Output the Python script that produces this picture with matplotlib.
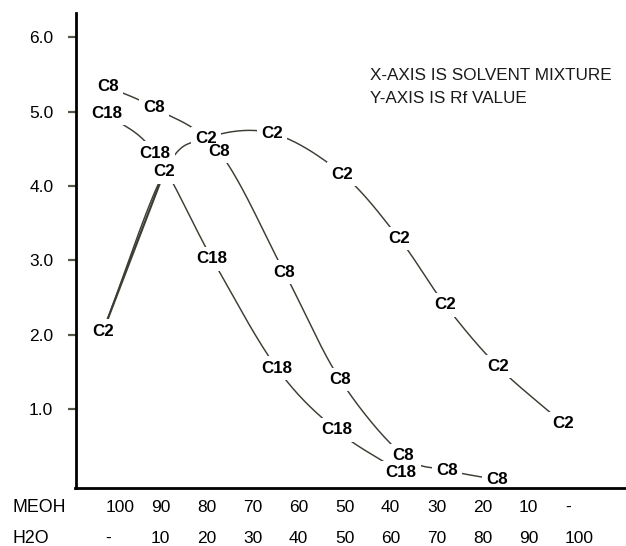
import numpy as np
import matplotlib
matplotlib.use("Agg")
import matplotlib.pyplot as plt
import matplotlib.transforms as mtransforms

# ---- data ----
meoh_labels = ["100", "90", "80", "70", "60", "50", "40", "30", "20", "10", "-"]
h2o_labels = ["-", "10", "20", "30", "40", "50", "60", "70", "80", "90", "100"]
meoh_pos = [100, 90, 80, 70, 60, 50, 40, 30, 20, 10, 0]

c2_x = [102.4, 89.1, 80.0, 65.7, 50.4, 38.0, 28.0, 16.5, 2.4]
c2_y = [2.05, 4.19, 4.64, 4.71, 4.16, 3.29, 2.40, 1.57, 0.81]
c8_x = [101.3, 91.3, 77.2, 63.0, 50.9, 37.2, 27.6, 16.7]
c8_y = [5.33, 5.05, 4.46, 2.84, 1.40, 0.38, 0.18, 0.05]
c18_x = [101.5, 91.1, 78.7, 64.6, 51.7, 37.6]
c18_y = [4.97, 4.44, 3.02, 1.55, 0.72, 0.15]

y_ticks = [1.0, 2.0, 3.0, 4.0, 5.0, 6.0]

LINE = "#3d3d33"
plt.rcParams["font.family"] = ["Liberation Sans", "DejaVu Sans"]

fig = plt.figure(figsize=(6.26, 5.46), dpi=100)
ax = fig.add_axes([75.5 / 626, 1 - 488 / 546, 1 - 75.5 / 626, (488 - 13) / 546])
ax.set_xlim(108.4, -11.3)
ax.set_ylim(-0.06, 6.324)

SX, SY = 4.6, 74.4  # approx px per unit, for smooth curve shape


def smooth(xs, ys, n=40):
    P = np.column_stack([np.asarray(xs) * SX, np.asarray(ys) * SY])
    P = np.vstack([2 * P[0] - P[1], P, 2 * P[-1] - P[-2]])
    out = []
    for i in range(1, len(P) - 2):
        p0, p1, p2, p3 = P[i - 1], P[i], P[i + 1], P[i + 2]
        t = np.linspace(0, 1, n)[:, None]
        seg = 0.5 * ((2 * p1) + (-p0 + p2) * t + (2 * p0 - 5 * p1 + 4 * p2 - p3) * t ** 2
                     + (-p0 + 3 * p1 - 3 * p2 + p3) * t ** 3)
        out.append(seg)
    out = np.vstack(out)
    return out[:, 0] / SX, out[:, 1] / SY


for xs, ys in [(c2_x, c2_y), (c8_x, c8_y), (c18_x, c18_y)]:
    sx, sy = smooth(xs, ys)
    ax.plot(sx, sy, color=LINE, lw=1.05, zorder=2, solid_capstyle="round")
# doubled stroke on first C2 segment
ax.plot(c2_x[:2], c2_y[:2], color=LINE, lw=1.6, zorder=2)

labels = [("C2", c2_x, c2_y), ("C8", c8_x, c8_y), ("C18", c18_x, c18_y)]
for name, xs, ys in labels:
    for x, y in zip(xs, ys):
        ax.text(x, y, name, ha="center", va="center", fontsize=12.2, fontweight="bold",
                color="none", zorder=3,
                bbox=dict(boxstyle="square,pad=0.25", facecolor="white", edgecolor="none"))
for name, xs, ys in labels:
    for x, y in zip(xs, ys):
        ax.text(x, y, name, ha="center", va="center", fontsize=12.2, fontweight="bold",
                color="black", zorder=4)

for s in ["top", "right"]:
    ax.spines[s].set_visible(False)
for s in ["left", "bottom"]:
    ax.spines[s].set_linewidth(2.0)
    ax.spines[s].set_zorder(6)
ax.set_xticks([])
ax.set_yticks(y_ticks)
ax.set_yticklabels([f"{v:.1f}" for v in y_ticks])
ax.tick_params(axis="y", length=6, width=1.6, color="#55554a", pad=10, labelsize=12.5)

# category rows under the axis
off = mtransforms.ScaledTranslation(-9 / 100, 0, fig.dpi_scale_trans)
tr = mtransforms.blended_transform_factory(ax.transData, fig.transFigure) + off
for m, a, b in zip(meoh_pos, meoh_labels, h2o_labels):
    ax.text(m, (546 - 512) / 546, a, transform=tr, ha="left", va="baseline",
            fontsize=12.5, clip_on=False)
    ax.text(m, (546 - 543) / 546, b, transform=tr, ha="left", va="baseline",
            fontsize=12.5, clip_on=False)
fig.text(12 / 626, (546 - 512) / 546, "MEOH", ha="left", va="baseline", fontsize=12.8)
fig.text(12 / 626, (546 - 543) / 546, "H2O", ha="left", va="baseline", fontsize=12.8)

fig.text(370 / 626, (546 - 80) / 546, "X-AXIS IS SOLVENT MIXTURE", ha="left",
         va="baseline", fontsize=12.3, color="#1a1a1a")
fig.text(370 / 626, (546 - 103) / 546, "Y-AXIS IS Rf VALUE", ha="left",
         va="baseline", fontsize=12.3, color="#1a1a1a")

fig.savefig("out.png", dpi=100)
